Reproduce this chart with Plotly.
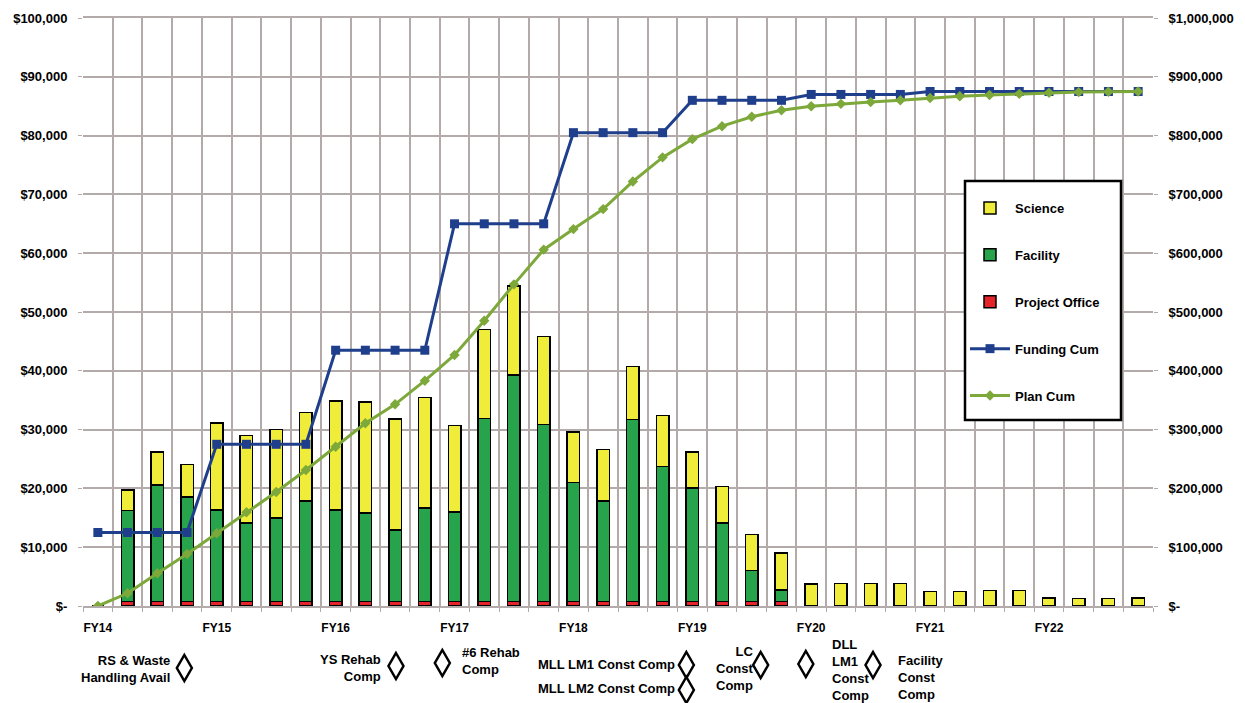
import plotly.graph_objects as go

# ---------------- data ----------------
fiscal_years = ["FY14", "FY15", "FY16", "FY17", "FY18", "FY19", "FY20", "FY21", "FY22"]
quarters = [f"{fy} Q{q}" for fy in fiscal_years for q in (1, 2, 3, 4)]  # 36 quarters

science = [0, 3500, 5600, 5600, 14800, 14900, 15000, 15000, 18600, 18900, 18900, 18800,
           14700, 15100, 15100, 14900, 8600, 8700, 9000, 8700, 6100, 6200, 6200, 6300,
           3700, 3800, 3800, 3800, 2500, 2500, 2600, 2600, 1400, 1300, 1300, 1400]
facility = [0, 15400, 19800, 17700, 15500, 13300, 14200, 17100, 15500, 15000, 12100, 15900,
            15200, 31100, 38500, 30100, 20200, 17100, 30900, 22900, 19300, 13300, 5200, 1900,
            0, 0, 0, 0, 0, 0, 0, 0, 0, 0, 0, 0]
project_office = [0] + [800] * 23 + [0] * 12

funding_cum = [125000] * 4 + [275000] * 4 + [435000] * 4 + [650000] * 4 + [805000] * 4 + \
              [860000] * 4 + [870000] * 4 + [875000] * 8
plan_cum = [0, 21600, 55600, 88400, 123600, 159400, 193900, 231300, 270900, 310700, 343000, 383200,
            426900, 485000, 547000, 606000, 641000, 675000, 722000, 763000, 794000, 816000, 832000, 843000,
            850000, 854000, 857000, 860000, 864000, 867000, 869000, 871000, 873000, 874000, 874500, 875000]

left_ticks = list(range(0, 100001, 10000))
right_ticks = list(range(0, 1000001, 100000))

milestone_names = ["RS & Waste<br>Handling Avail", "YS Rehab<br>Comp", "#6 Rehab<br>Comp",
                   "MLL LM1 Const Comp", "MLL LM2 Const Comp", "LC<br>Const<br>Comp",
                   "DLL<br>LM1<br>Const<br>Comp", "Facility<br>Const<br>Comp"]
milestone_quarter = [2.91, 10.03, 11.59, 19.8, 19.8, 22.3, 23.82, 26.08]

# ---------------- style ----------------
FONT = "Liberation Sans, Arial, sans-serif"
GRID = "#b3aaaa"
C_SCI = "#f0ec3a"
C_FAC = "#27a34b"
C_PO = "#e5232b"
C_FUND = "#1f3f8c"
C_PLAN = "#7da83a"

# the page body adds an 8px offset; figure is sized so the plot lands at x 83-1153, y 18-606
OFF = 8
W, H = 1245 - OFF, 703 - OFF
ML, MR, MT, MB = 83 - OFF, 92, 18 - OFF, 97
PW, PH = W - ML - MR, H - MT - MB
X0, Y1 = 83, 606   # absolute screen position of plot left / bottom


def ypaper(px):
    return (Y1 - px) / PH


def xpaper(px):
    return (px - X0) / PW


def money(v):
    return "$-" if v == 0 else "${:,.0f}".format(v)


fig = go.Figure()
bar_style = dict(line=dict(color="black", width=1.5))
fig.add_trace(go.Bar(x=quarters, y=project_office, name="Project Office", legendrank=3, legendgroup="po",
                     marker=dict(color=C_PO, **bar_style), width=0.42))
fig.add_trace(go.Bar(x=quarters, y=facility, name="Facility", legendrank=2, legendgroup="fac",
                     marker=dict(color=C_FAC, **bar_style), width=0.42))
fig.add_trace(go.Bar(x=quarters, y=science, name="Science", legendrank=1, legendgroup="sci",
                     marker=dict(color=C_SCI, **bar_style), width=0.42))
fig.add_trace(go.Scatter(x=quarters, y=funding_cum, name="Funding Cum", legendrank=4, legendgroup="fund",
                         yaxis="y2", mode="lines+markers",
                         line=dict(color=C_FUND, width=3),
                         marker=dict(symbol="square", size=9, color=C_FUND)))
fig.add_trace(go.Scatter(x=quarters, y=plan_cum, name="Plan Cum", legendrank=5, legendgroup="plan",
                         yaxis="y2", mode="lines+markers",
                         line=dict(color=C_PLAN, width=3),
                         marker=dict(symbol="diamond", size=8, color=C_PLAN)))

ticktext = [q.split(" ")[0] if q.endswith("Q1") else "" for q in quarters]

fig.update_layout(
    width=W, height=H, autosize=False,
    margin=dict(l=ML, r=MR, t=MT, b=MB, autoexpand=False),
    paper_bgcolor="white", plot_bgcolor="white",
    barmode="stack", bargap=0.58,
    font=dict(family=FONT, size=12, color="black"),
    xaxis=dict(type="category", tickmode="array", tickvals=quarters, ticktext=ticktext,
               tickson="boundaries", ticks="outside", ticklen=4, tickcolor=GRID,
               showgrid=True, gridcolor=GRID, gridwidth=1.5, tickangle=0, automargin=False,
               showline=True, linecolor=GRID, linewidth=1.5, mirror=True,
               range=[-0.5, len(quarters) - 0.5],
               tickfont=dict(family=FONT, size=12, color="black", weight="bold"),
               ticklabelstandoff=10),
    yaxis=dict(range=[0, 100000], tickmode="array", tickvals=left_ticks,
               ticktext=[money(v) for v in left_ticks], automargin=False,
               showgrid=True, gridcolor=GRID, gridwidth=1.5, zeroline=False,
               ticks="outside", ticklen=4, tickcolor=GRID,
               tickfont=dict(family=FONT, size=13, color="black", weight="bold"),
               ticklabelstandoff=8),
    yaxis2=dict(range=[0, 1000000], overlaying="y", side="right", tickmode="array",
                tickvals=right_ticks, ticktext=[money(v) for v in right_ticks], automargin=False,
                showgrid=False, zeroline=False, ticks="outside", ticklen=4, tickcolor=GRID,
                tickfont=dict(family=FONT, size=13, color="black", weight="bold"),
                ticklabelstandoff=8),
    legend=dict(x=xpaper(965), y=ypaper(193), xanchor="left", yanchor="top",
                bgcolor="rgba(0,0,0,0)", borderwidth=0,
                traceorder="grouped", tracegroupgap=27, itemwidth=40,
                font=dict(family=FONT, size=13, color="black", weight="bold")),
)

# legend frame
fig.add_shape(type="rect", xref="paper", yref="paper",
              x0=xpaper(965), x1=xpaper(1121), y0=ypaper(420), y1=ypaper(181),
              line=dict(color="black", width=2.5), fillcolor="white", layer="above")

# milestones: diamonds + labels
diamond_y = [668, 666, 663, 665, 690, 665, 664, 665]
label_pos = [  # (quarter position, pixel y, anchor)
    (2.5, 668.5, "right"), (9.59, 667.5, "right"), (12.2, 660.5, "left"),
    (19.49, 664, "right"), (19.49, 689, "right"), (22.13, 668.5, "right"),
    (24.63, 669.5, "left"), (26.86, 677, "left"),
]
for name, q, dy, (lx, ly, anc) in zip(milestone_names, milestone_quarter, diamond_y, label_pos):
    fig.add_annotation(x=lx, y=ypaper(ly), xref="x", yref="paper", text=name, showarrow=False,
                       xanchor=anc, yanchor="middle", align=anc,
                       font=dict(family=FONT, size=13, color="black", weight="bold"))
    fig.add_shape(type="path", xref="x", yref="paper", xsizemode="pixel", ysizemode="pixel",
                  xanchor=q, yanchor=ypaper(dy), path="M 0,13 L 7.5,0 L 0,-13 L -7.5,0 Z",
                  line=dict(color="black", width=2.5), fillcolor="white")

fig.write_html("out.html")
